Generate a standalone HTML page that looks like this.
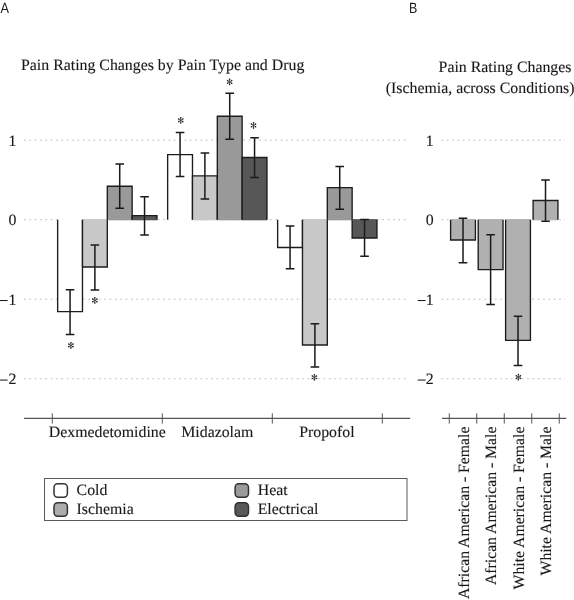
<!DOCTYPE html>
<html><head><meta charset="utf-8"><style>
html,body{margin:0;padding:0;background:#fff;}
svg{display:block;will-change:transform;}
text{font-family:"Liberation Serif",serif;text-rendering:geometricPrecision;font-size:15.85px;fill:#181818;stroke:#181818;stroke-width:0.12px;}
text.lt{font-family:"Liberation Sans",sans-serif;font-size:14.8px;fill:#1e1e1e;stroke:none;}
.ast path{stroke:#2a2a2a;stroke-width:0.75;fill:none;} .ast circle{fill:#2a2a2a;}
.grid{stroke:#b8b8b8;stroke-width:1;stroke-dasharray:1.6 3.75;}
.bar{fill:none;stroke:#1c1c1c;stroke-width:1.35;}
.err{fill:none;stroke:#1a1a1a;stroke-width:1.5;}
.axis{stroke:#555;stroke-width:1.1;}
.tick{stroke:#555;stroke-width:1;}
.minus{stroke:#1e1e1e;stroke-width:1.05;}
.leg{fill:none;stroke:#5a5a5a;stroke-width:1;}
.sw{stroke:#333;stroke-width:1.5;}
</style></head><body>
<svg width="574" height="600" viewBox="0 0 574 600">
<line x1="24" y1="140.17" x2="407" y2="140.17" class="grid"/>
<line x1="24" y1="219.70" x2="407" y2="219.70" class="grid"/>
<line x1="24" y1="299.23" x2="407" y2="299.23" class="grid"/>
<line x1="24" y1="378.76" x2="407" y2="378.76" class="grid"/>
<line x1="441.5" y1="140.17" x2="565" y2="140.17" class="grid"/>
<line x1="441.5" y1="219.70" x2="565" y2="219.70" class="grid"/>
<line x1="441.5" y1="299.23" x2="565" y2="299.23" class="grid"/>
<line x1="441.5" y1="378.76" x2="565" y2="378.76" class="grid"/>
<text x="16.3" y="145.67" text-anchor="end">1</text>
<text x="433.6" y="145.67" text-anchor="end">1</text>
<text x="16.3" y="225.20" text-anchor="end">0</text>
<text x="433.6" y="225.20" text-anchor="end">0</text>
<text x="16.3" y="304.73" text-anchor="end">1</text>
<text x="433.6" y="304.73" text-anchor="end">1</text>
<line x1="-0.3" y1="300.53" x2="7.6" y2="300.53" class="minus"/>
<line x1="417.7" y1="300.53" x2="425.6" y2="300.53" class="minus"/>
<text x="16.3" y="384.26" text-anchor="end">2</text>
<text x="433.6" y="384.26" text-anchor="end">2</text>
<line x1="-0.3" y1="380.06" x2="7.6" y2="380.06" class="minus"/>
<line x1="417.7" y1="380.06" x2="425.6" y2="380.06" class="minus"/>
<rect x="57.65" y="219.10" width="24.83" height="92.54" fill="#ffffff"/>
<path d="M57.65 219.70V311.64H82.48V219.70" class="bar"/>
<rect x="82.48" y="219.10" width="24.83" height="47.92" fill="#c8c8c8"/>
<path d="M82.48 219.70V267.02H107.31V219.70" class="bar"/>
<rect x="107.31" y="186.22" width="24.83" height="34.08" fill="#999999"/>
<path d="M107.31 219.70V186.22H132.14V219.70" class="bar"/>
<rect x="132.14" y="215.56" width="24.83" height="4.74" fill="#575757"/>
<path d="M132.14 219.70V215.56H156.97V219.70" class="bar"/>
<rect x="167.65" y="154.56" width="24.83" height="65.74" fill="#ffffff"/>
<path d="M167.65 219.70V154.56H192.48V219.70" class="bar"/>
<rect x="192.48" y="175.80" width="24.83" height="44.50" fill="#c8c8c8"/>
<path d="M192.48 219.70V175.80H217.31V219.70" class="bar"/>
<rect x="217.31" y="116.23" width="24.83" height="104.07" fill="#999999"/>
<path d="M217.31 219.70V116.23H242.14V219.70" class="bar"/>
<rect x="242.14" y="157.51" width="24.83" height="62.79" fill="#575757"/>
<path d="M242.14 219.70V157.51H266.97V219.70" class="bar"/>
<rect x="277.65" y="219.10" width="24.83" height="28.44" fill="#ffffff"/>
<path d="M277.65 219.70V247.54H302.48V219.70" class="bar"/>
<rect x="302.48" y="219.10" width="24.83" height="125.94" fill="#c8c8c8"/>
<path d="M302.48 219.70V345.04H327.31V219.70" class="bar"/>
<rect x="327.31" y="187.57" width="24.83" height="32.73" fill="#999999"/>
<path d="M327.31 219.70V187.57H352.14V219.70" class="bar"/>
<rect x="352.14" y="219.10" width="24.83" height="18.89" fill="#575757"/>
<path d="M352.14 219.70V237.99H376.97V219.70" class="bar"/>
<rect x="450.6" y="219.10" width="24.83" height="20.88" fill="#b0b0b0"/>
<path d="M450.6 219.70V239.98H475.43V219.70" class="bar"/>
<rect x="478.2" y="219.10" width="24.83" height="50.54" fill="#b0b0b0"/>
<path d="M478.2 219.70V269.64H503.03V219.70" class="bar"/>
<rect x="505.6" y="219.10" width="24.83" height="121.33" fill="#b0b0b0"/>
<path d="M505.6 219.70V340.43H530.4300000000001V219.70" class="bar"/>
<rect x="533.1" y="200.53" width="24.83" height="19.77" fill="#b0b0b0"/>
<path d="M533.1 219.70V200.53H557.9300000000001V219.70" class="bar"/>
<path d="M70.065 289.77V334.46M65.77 289.77H74.36M65.77 334.46H74.36" class="err"/>
<path d="M94.89500000000001 244.99V289.92M90.60 244.99H99.20M90.60 289.92H99.20" class="err"/>
<path d="M119.725 164.03V208.17M115.42 164.03H124.02M115.42 208.17H124.02" class="err"/>
<path d="M144.55499999999998 196.72V235.05M140.25 196.72H148.85M140.25 235.05H148.85" class="err"/>
<path d="M180.065 132.54V176.52M175.76 132.54H184.37M175.76 176.52H184.37" class="err"/>
<path d="M204.89499999999998 152.89V199.02M200.59 152.89H209.19M200.59 199.02H209.19" class="err"/>
<path d="M229.725 93.17V139.30M225.42 93.17H234.03M225.42 139.30H234.03" class="err"/>
<path d="M254.55499999999998 137.78V177.47M250.25 137.78H258.85M250.25 177.47H258.85" class="err"/>
<path d="M290.065 226.06V268.77M285.76 226.06H294.37M285.76 268.77H294.37" class="err"/>
<path d="M314.89500000000004 323.80V366.99M310.60 323.80H319.20M310.60 366.99H319.20" class="err"/>
<path d="M339.725 166.41V209.36M335.43 166.41H344.03M335.43 209.36H344.03" class="err"/>
<path d="M364.555 219.62V256.36M360.25 219.62H368.86M360.25 256.36H368.86" class="err"/>
<path d="M463.01500000000004 218.27V262.73M458.72 218.27H467.32M458.72 262.73H467.32" class="err"/>
<path d="M490.615 234.73V304.48M486.31 234.73H494.92M486.31 304.48H494.92" class="err"/>
<path d="M518.015 316.33V365.40M513.72 316.33H522.31M513.72 365.40H522.31" class="err"/>
<path d="M545.515 179.94V221.37M541.22 179.94H549.81M541.22 221.37H549.81" class="err"/>
<g class="ast"><path d="M70.90 345.40L70.90 342.20M70.90 345.40L73.50 343.80M70.90 345.40L73.50 347.00M70.90 345.40L70.90 348.60M70.90 345.40L68.30 343.80M70.90 345.40L68.30 347.00"/><circle cx="70.90" cy="342.85" r="0.8"/><circle cx="72.94" cy="344.12" r="0.8"/><circle cx="72.94" cy="346.67" r="0.8"/><circle cx="70.90" cy="347.95" r="0.8"/><circle cx="68.86" cy="344.12" r="0.8"/><circle cx="68.86" cy="346.67" r="0.8"/></g>
<g class="ast"><path d="M94.80 300.40L94.80 297.20M94.80 300.40L97.40 298.80M94.80 300.40L97.40 302.00M94.80 300.40L94.80 303.60M94.80 300.40L92.20 298.80M94.80 300.40L92.20 302.00"/><circle cx="94.80" cy="297.85" r="0.8"/><circle cx="96.84" cy="299.12" r="0.8"/><circle cx="96.84" cy="301.67" r="0.8"/><circle cx="94.80" cy="302.95" r="0.8"/><circle cx="92.76" cy="299.12" r="0.8"/><circle cx="92.76" cy="301.67" r="0.8"/></g>
<g class="ast"><path d="M180.75 120.30L180.75 117.10M180.75 120.30L183.35 118.70M180.75 120.30L183.35 121.90M180.75 120.30L180.75 123.50M180.75 120.30L178.15 118.70M180.75 120.30L178.15 121.90"/><circle cx="180.75" cy="117.75" r="0.8"/><circle cx="182.79" cy="119.02" r="0.8"/><circle cx="182.79" cy="121.58" r="0.8"/><circle cx="180.75" cy="122.85" r="0.8"/><circle cx="178.71" cy="119.02" r="0.8"/><circle cx="178.71" cy="121.58" r="0.8"/></g>
<g class="ast"><path d="M229.60 81.90L229.60 78.70M229.60 81.90L232.20 80.30M229.60 81.90L232.20 83.50M229.60 81.90L229.60 85.10M229.60 81.90L227.00 80.30M229.60 81.90L227.00 83.50"/><circle cx="229.60" cy="79.35" r="0.8"/><circle cx="231.64" cy="80.62" r="0.8"/><circle cx="231.64" cy="83.18" r="0.8"/><circle cx="229.60" cy="84.45" r="0.8"/><circle cx="227.56" cy="80.62" r="0.8"/><circle cx="227.56" cy="83.18" r="0.8"/></g>
<g class="ast"><path d="M253.50 125.40L253.50 122.20M253.50 125.40L256.10 123.80M253.50 125.40L256.10 127.00M253.50 125.40L253.50 128.60M253.50 125.40L250.90 123.80M253.50 125.40L250.90 127.00"/><circle cx="253.50" cy="122.85" r="0.8"/><circle cx="255.54" cy="124.12" r="0.8"/><circle cx="255.54" cy="126.68" r="0.8"/><circle cx="253.50" cy="127.95" r="0.8"/><circle cx="251.46" cy="124.12" r="0.8"/><circle cx="251.46" cy="126.68" r="0.8"/></g>
<g class="ast"><path d="M314.40 377.30L314.40 374.10M314.40 377.30L317.00 375.70M314.40 377.30L317.00 378.90M314.40 377.30L314.40 380.50M314.40 377.30L311.80 375.70M314.40 377.30L311.80 378.90"/><circle cx="314.40" cy="374.75" r="0.8"/><circle cx="316.44" cy="376.03" r="0.8"/><circle cx="316.44" cy="378.57" r="0.8"/><circle cx="314.40" cy="379.85" r="0.8"/><circle cx="312.36" cy="376.03" r="0.8"/><circle cx="312.36" cy="378.57" r="0.8"/></g>
<g class="ast"><path d="M518.40 377.10L518.40 373.90M518.40 377.10L521.00 375.50M518.40 377.10L521.00 378.70M518.40 377.10L518.40 380.30M518.40 377.10L515.80 375.50M518.40 377.10L515.80 378.70"/><circle cx="518.40" cy="374.55" r="0.8"/><circle cx="520.44" cy="375.83" r="0.8"/><circle cx="520.44" cy="378.38" r="0.8"/><circle cx="518.40" cy="379.65" r="0.8"/><circle cx="516.36" cy="375.83" r="0.8"/><circle cx="516.36" cy="378.38" r="0.8"/></g>
<line x1="24" y1="418.4" x2="410.2" y2="418.4" class="axis"/>
<line x1="52.3" y1="413.3" x2="52.3" y2="423.6" class="tick"/>
<line x1="162.3" y1="413.3" x2="162.3" y2="423.6" class="tick"/>
<line x1="272.3" y1="413.3" x2="272.3" y2="423.6" class="tick"/>
<line x1="382.3" y1="413.3" x2="382.3" y2="423.6" class="tick"/>
<line x1="442" y1="418.4" x2="566.3" y2="418.4" class="axis"/>
<line x1="449.25" y1="413.3" x2="449.25" y2="423.6" class="tick"/>
<line x1="476.75" y1="413.3" x2="476.75" y2="423.6" class="tick"/>
<line x1="504.25" y1="413.3" x2="504.25" y2="423.6" class="tick"/>
<line x1="531.75" y1="413.3" x2="531.75" y2="423.6" class="tick"/>
<line x1="559.25" y1="413.3" x2="559.25" y2="423.6" class="tick"/>
<text x="107.3" y="436.7" text-anchor="middle">Dexmedetomidine</text>
<text x="217.3" y="436.7" text-anchor="middle">Midazolam</text>
<text x="326.9" y="436.7" text-anchor="middle">Propofol</text>
<text transform="translate(468.60,426.6) rotate(-90)" text-anchor="end" style="font-size:15.72px">African American - Female</text>
<text transform="translate(496.10,426.6) rotate(-90)" text-anchor="end" style="font-size:15.72px">African American - Male</text>
<text transform="translate(523.60,426.6) rotate(-90)" text-anchor="end" style="font-size:15.72px">White American - Female</text>
<text transform="translate(551.10,426.6) rotate(-90)" text-anchor="end" style="font-size:15.72px">White American - Male</text>
<text x="21" y="69.6">Pain Rating Changes by Pain Type and Drug</text>
<text x="438.6" y="72.4">Pain Rating Changes</text>
<text x="385.8" y="93.3">(Ischemia, across Conditions)</text>
<text transform="translate(0.6,13.1) scale(0.86,1)" class="lt">A</text>
<text transform="translate(409.1,12.8) scale(0.84,1)" class="lt">B</text>
<rect x="44.5" y="478.5" width="362.5" height="42" class="leg"/>
<rect x="54.00" y="483.80" width="13.4" height="13.4" rx="3.6" fill="#ffffff" class="sw"/>
<text x="76.60" y="495.40">Cold</text>
<rect x="54.00" y="502.80" width="13.4" height="13.4" rx="3.6" fill="#acacac" class="sw"/>
<text x="76.60" y="514.40">Ischemia</text>
<rect x="235.10" y="483.80" width="13.4" height="13.4" rx="3.6" fill="#9a9a9a" class="sw"/>
<text x="257.70" y="495.40">Heat</text>
<rect x="235.10" y="502.80" width="13.4" height="13.4" rx="3.6" fill="#585858" class="sw"/>
<text x="257.70" y="514.40">Electrical</text>
</svg>
</body></html>
